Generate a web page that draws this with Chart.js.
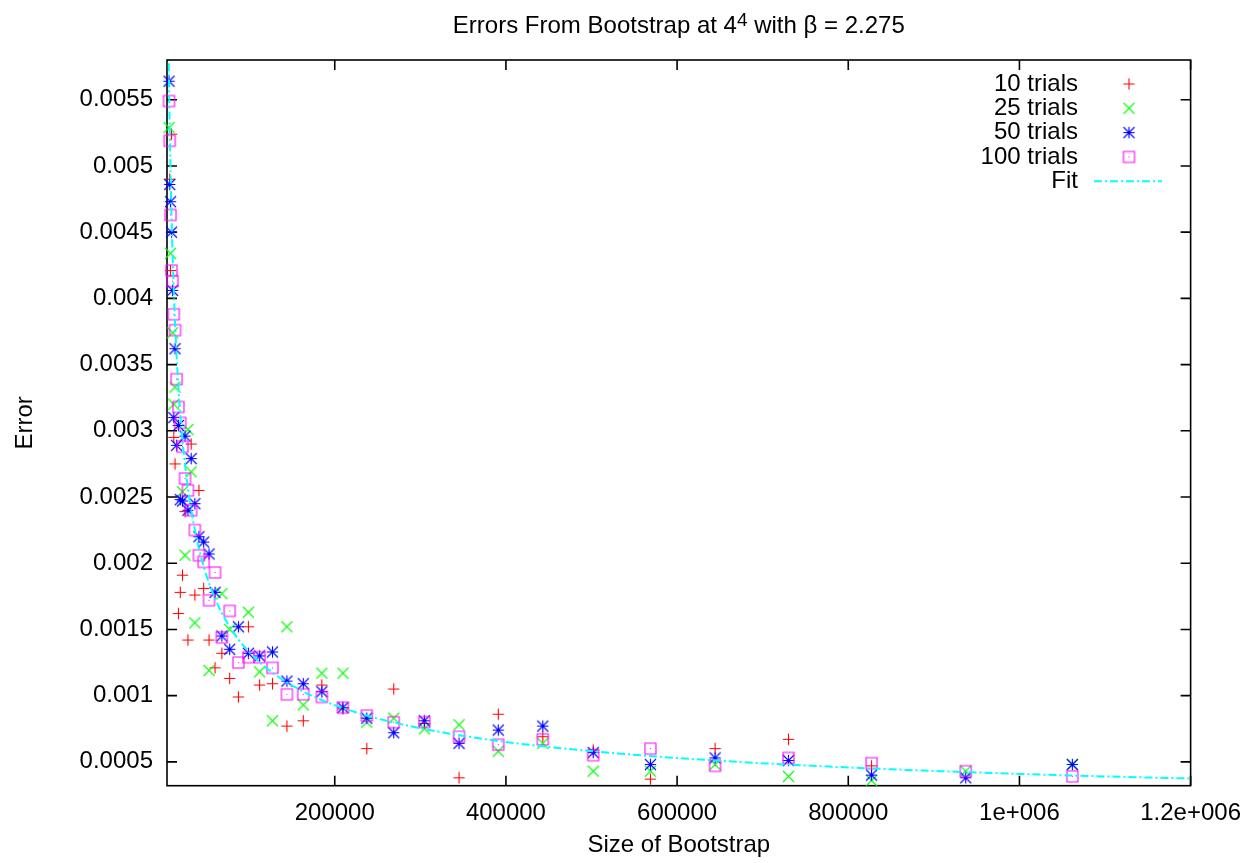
<!DOCTYPE html>
<html>
<head>
<meta charset="utf-8">
<title>Errors From Bootstrap</title>
<script src="https://cdn.jsdelivr.net/npm/chart.js@4.4.1/dist/chart.umd.min.js"></script>
<style>
  html, body { margin: 0; padding: 0; background: #fff; }
  canvas { display: block; }
</style>
</head>
<body>
<canvas id="bootstrapChart" width="1254" height="863"></canvas>
<script>
// bootstrap sizes shared by all four runs
const sizes = [6360, 7200, 8160, 9240, 10500, 11900, 13400, 15200, 17300, 19500,
  22100, 25100, 28400, 32200, 36500, 41300, 46800, 53100, 60100, 68100,
  77200, 87400, 99100, 112200, 127200, 144100, 163200, 184900, 209500, 237400,
  268900, 304700, 345200, 391100, 443100, 502000, 568800, 644400, 730100, 827200,
  937200, 1061800];

// error for each size (null = not plotted)
const trials10 = [null, 0.00490, 0.00421, 0.00524, null, 0.00295, 0.00275, null, 0.00162, 0.00178,
  0.00191, 0.00239, 0.00142, 0.00290, 0.00176, 0.00255, 0.00181, 0.00142, 0.00121, 0.00132,
  0.00113, 0.00099, 0.00152, 0.00108, 0.00109, 0.00077, 0.00081, 0.00108, 0.00090, 0.00060,
  0.00105, 0.00079, 0.00038, 0.00086, 0.00069, 0.00059, 0.00037, 0.00060, 0.00067, 0.00047,
  null, null];
const trials25 = [0.00529, null, 0.00434, null, 0.00374, 0.00320, 0.00333, null, null, null,
  0.00254, 0.00206, 0.00301, 0.00269, 0.00155, null, null, 0.00119, null, 0.00177,
  0.00150, null, 0.00163, 0.00118, 0.00081, 0.00152, 0.00093, 0.00117, 0.00117, 0.00080,
  0.00083, 0.00075, 0.00078, 0.00058, 0.00064, 0.00043, 0.00043, 0.00048, 0.00039, 0.00036,
  0.00043, 0.00048];
const trials50 = [0.00564, 0.00486, 0.00473, 0.00450, 0.00406, 0.00310, 0.00362, 0.00289, 0.00304, 0.00248,
  0.00247, 0.00296, 0.00240, 0.00279, 0.00245, 0.00220, 0.00216, 0.00207, 0.00178, 0.00145,
  0.00135, 0.00152, 0.00132, 0.00130, 0.00133, 0.00111, 0.00109, 0.00103, 0.00091, 0.00083,
  0.00072, 0.00081, 0.00064, 0.00074, 0.00077, 0.00057, 0.00048, 0.00053, 0.00051, 0.00040,
  0.00038, 0.00048];
const trials100 = [0.00549, 0.00519, 0.00463, 0.00421, 0.00413, 0.00388, 0.00376, 0.00339, 0.00318, 0.00306,
  0.00288, 0.00264, 0.00255, 0.00240, 0.00225, 0.00206, 0.00201, 0.00172, 0.00193, 0.00144,
  0.00164, 0.00125, 0.00129, 0.00129, 0.00121, 0.00101, 0.00101, 0.00099, 0.00091, 0.00085,
  0.00080, 0.00080, 0.00069, 0.00063, 0.00067, 0.00055, 0.00060, 0.00047, 0.00053, 0.00049,
  0.00043, 0.00039];

// fitted curve, sampled
const fitSizes = [6100, 6500, 7000, 7600, 8200, 9000, 10000, 11000, 12000, 13500,
  15000, 17000, 19000, 21500, 24000, 27000, 30000, 34000, 38000, 43000,
  48000, 54000, 60000, 68000, 77000, 87000, 100000, 115000, 130000, 150000,
  175000, 200000, 240000, 280000, 330000, 400000, 480000, 560000, 650000, 750000,
  850000, 950000, 1050000, 1200000];
const fitErrors = [0.005775, 0.005584, 0.005370, 0.005142, 0.004940, 0.004703, 0.004448, 0.004230, 0.004041, 0.003798,
  0.003593, 0.003364, 0.003173, 0.002973, 0.002806, 0.002638, 0.002496, 0.002337, 0.002205, 0.002066,
  0.001950, 0.001834, 0.001736, 0.001625, 0.001523, 0.001429, 0.001330, 0.001236, 0.001160, 0.001077,
  0.000994, 0.000928, 0.000845, 0.000781, 0.000718, 0.000650, 0.000593, 0.000548, 0.000508, 0.000473,
  0.000444, 0.000420, 0.000399, 0.000374];

const xTicks = [200000, 400000, 600000, 800000, 1000000, 1200000];
const xTickLabels = ['200000', '400000', '600000', '800000', '1e+006', '1.2e+006'];
const yTicks = [0.0005, 0.001, 0.0015, 0.002, 0.0025, 0.003, 0.0035, 0.004, 0.0045, 0.005, 0.0055];
const yTickLabels = ['0.0005', '0.001', '0.0015', '0.002', '0.0025', '0.003', '0.0035', '0.004', '0.0045', '0.005', '0.0055'];

const seriesNames = ['10 trials', '25 trials', '50 trials', '100 trials', 'Fit'];

const FAMILY = "'Liberation Sans', Arial, Helvetica, sans-serif";
const TICK = 10;
const FIT_DASH = [8, 3, 2, 3];

// gnuplot-like point glyphs, 15px canvas centred on 7.5
function makeMarker(color, draw) {
  const c = document.createElement('canvas');
  c.width = 15; c.height = 15;
  const g = c.getContext('2d');
  g.strokeStyle = color;
  g.fillStyle = color;
  g.lineWidth = 1.1;
  g.beginPath();
  draw(g);
  g.stroke();
  return c;
}
const plus = g => { g.moveTo(1.8, 7.5); g.lineTo(13.2, 7.5); g.moveTo(7.5, 1.8); g.lineTo(7.5, 13.2); };
const cross = g => { g.moveTo(2, 2); g.lineTo(13, 13); g.moveTo(13, 2); g.lineTo(2, 13); };
const markers = [
  makeMarker('#ff0000', plus),
  makeMarker('#00ff00', cross),
  makeMarker('#0000ff', g => { plus(g); cross(g); }),
  makeMarker('#ff00ff', g => { g.rect(2, 2, 11, 11); g.fillRect(7, 7, 1, 1); })
];

function seriesPoints(values) {
  return sizes.map((s, i) => ({ x: s, y: values[i] })).filter(p => p.y !== null);
}

const gnuplotFrame = {
  id: 'gnuplotFrame',
  beforeDatasetsDraw(chart) {
    const { ctx, chartArea: a, scales: { x, y } } = chart;
    ctx.save();
    ctx.strokeStyle = '#000';
    ctx.lineWidth = 1.6;
    ctx.strokeRect(a.left, a.top, a.right - a.left, a.bottom - a.top);
    ctx.beginPath();
    xTicks.forEach(v => {
      const px = x.getPixelForValue(v);
      ctx.moveTo(px, a.bottom); ctx.lineTo(px, a.bottom - TICK);
      ctx.moveTo(px, a.top); ctx.lineTo(px, a.top + TICK);
    });
    yTicks.forEach(v => {
      const py = y.getPixelForValue(v);
      ctx.moveTo(a.left, py); ctx.lineTo(a.left + TICK, py);
      ctx.moveTo(a.right, py); ctx.lineTo(a.right - TICK, py);
    });
    ctx.stroke();
    ctx.restore();
  },
  afterDraw(chart) {
    const { ctx, chartArea: a } = chart;
    ctx.save();
    ctx.fillStyle = '#000';

    // title with superscript
    const partA = 'Errors From Bootstrap at 4', sup = '4', partB = ' with \u03b2 = 2.275';
    ctx.font = '24px ' + FAMILY;
    const wA = ctx.measureText(partA).width, wB = ctx.measureText(partB).width;
    ctx.font = '19px ' + FAMILY;
    const wS = ctx.measureText(sup).width;
    let tx = (a.left + a.right) / 2 - (wA + wS + wB) / 2;
    const base = 33;
    ctx.textAlign = 'left';
    ctx.textBaseline = 'alphabetic';
    ctx.font = '24px ' + FAMILY;
    ctx.fillText(partA, tx, base);
    tx += wA;
    ctx.font = '19px ' + FAMILY;
    ctx.fillText(sup, tx, base - 7);
    tx += wS;
    ctx.font = '24px ' + FAMILY;
    ctx.fillText(partB, tx, base);

    // key, top right inside the frame
    ctx.textAlign = 'right';
    ctx.textBaseline = 'middle';
    seriesNames.forEach((name, i) => {
      const ry = 84 + i * 24.3;
      ctx.fillText(name, 1078, ry);
      if (i < 4) {
        ctx.drawImage(markers[i], 1129 - 7.5, ry - 7.5);
      } else {
        ctx.strokeStyle = '#00ffff';
        ctx.lineWidth = 2;
        ctx.setLineDash(FIT_DASH);
        ctx.beginPath();
        ctx.moveTo(1094, ry);
        ctx.lineTo(1162, ry);
        ctx.stroke();
      }
    });
    ctx.restore();
  }
};

Chart.defaults.font.family = FAMILY;
Chart.defaults.font.size = 24;
Chart.defaults.color = '#000';

const pointSet = (i, values, order) => ({
  label: seriesNames[i],
  data: seriesPoints(values),
  pointStyle: markers[i],
  pointRadius: 6,
  pointHoverRadius: 6,
  clip: false,
  order: order
});

new Chart(document.getElementById('bootstrapChart'), {
  type: 'scatter',
  data: {
    datasets: [
      pointSet(0, trials10, 5),
      pointSet(1, trials25, 4),
      pointSet(2, trials50, 3),
      pointSet(3, trials100, 2),
      {
        label: seriesNames[4],
        data: fitSizes.map((s, i) => ({ x: s, y: fitErrors[i] })),
        showLine: true,
        pointRadius: 0,
        borderColor: '#00ffff',
        borderWidth: 2,
        borderDash: FIT_DASH,
        cubicInterpolationMode: 'monotone',
        order: 1
      }
    ]
  },
  options: {
    responsive: false,
    animation: false,
    devicePixelRatio: 1,
    events: [],
    layout: { padding: { top: 60, right: 61, bottom: 0, left: 0 } },
    plugins: {
      legend: { display: false },
      title: { display: false },
      tooltip: { enabled: false }
    },
    scales: {
      x: {
        type: 'linear',
        min: 4000,
        max: 1200000,
        afterBuildTicks: s => { s.ticks = xTicks.map(v => ({ value: v })); },
        afterFit: s => { s.height = 77.3; },
        grid: { display: false, drawTicks: false },
        border: { display: false },
        ticks: {
          padding: 13,
          autoSkip: false,
          maxRotation: 0,
          minRotation: 0,
          callback: v => xTickLabels[xTicks.indexOf(v)]
        },
        title: { display: true, text: 'Size of Bootstrap', padding: { top: 0, bottom: 3 } }
      },
      y: {
        type: 'linear',
        min: 0.00032,
        max: 0.0058,
        afterBuildTicks: s => { s.ticks = yTicks.map(v => ({ value: v })); },
        afterFit: s => { s.width = 167; },
        grid: { display: false, drawTicks: false },
        border: { display: false },
        ticks: {
          padding: 14,
          autoSkip: false,
          callback: v => yTickLabels[yTicks.indexOf(v)]
        },
        title: { display: true, text: 'Error', padding: { top: 11, bottom: 0 } }
      }
    }
  },
  plugins: [gnuplotFrame]
});
</script>
</body>
</html>
